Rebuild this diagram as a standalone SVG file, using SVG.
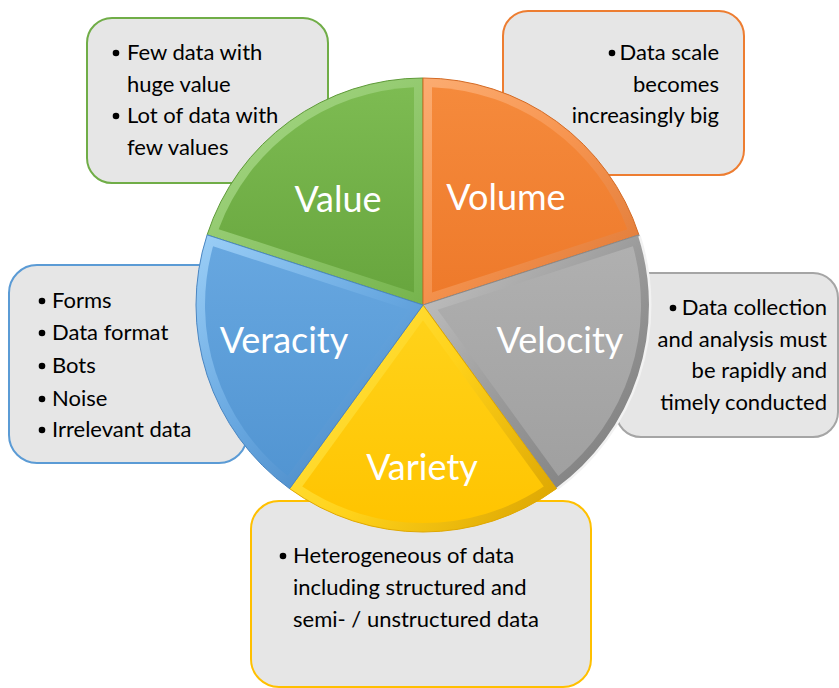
<svg xmlns="http://www.w3.org/2000/svg" width="839" height="688" viewBox="0 0 839 688">
<style>
.box{fill:#E6E6E6;stroke-width:2}
.t{font-family:Lato,"Open Sans",sans-serif;font-size:22px;fill:#000}
.e{text-anchor:end}
.lbl{font-family:Lato,"Open Sans",sans-serif;font-size:36px;fill:#fff;text-anchor:middle}
.b{fill:#000}
</style>
<defs>
<linearGradient id="gF" x1="0" y1="0" x2="0" y2="1"><stop offset="0" stop-color="#7DBB52"/><stop offset="1" stop-color="#68A63E"/></linearGradient>
<linearGradient id="gB" gradientUnits="userSpaceOnUse" x1="230" y1="90" x2="560" y2="520"><stop offset="0" stop-color="#A6D886"/><stop offset="0.5" stop-color="#79B650"/><stop offset="1" stop-color="#4F8A2E"/></linearGradient>
<linearGradient id="oF" x1="0" y1="0" x2="0" y2="1"><stop offset="0" stop-color="#F58A3C"/><stop offset="1" stop-color="#EE7A2B"/></linearGradient>
<linearGradient id="oB" gradientUnits="userSpaceOnUse" x1="230" y1="90" x2="620" y2="520"><stop offset="0" stop-color="#FFC08E"/><stop offset="0.45" stop-color="#F79550"/><stop offset="1" stop-color="#C75F20"/></linearGradient>
<linearGradient id="yF" x1="0" y1="0" x2="0" y2="1"><stop offset="0" stop-color="#FFD21A"/><stop offset="1" stop-color="#FFC400"/></linearGradient>
<linearGradient id="yB" gradientUnits="userSpaceOnUse" x1="260" y1="320" x2="560" y2="530"><stop offset="0" stop-color="#FFEA55"/><stop offset="0.5" stop-color="#FFD21A"/><stop offset="1" stop-color="#D9A200"/></linearGradient>
<linearGradient id="aF" x1="0" y1="0" x2="0" y2="1"><stop offset="0" stop-color="#B0B0B0"/><stop offset="1" stop-color="#A0A0A0"/></linearGradient>
<linearGradient id="aB" gradientUnits="userSpaceOnUse" x1="420" y1="240" x2="660" y2="470"><stop offset="0" stop-color="#C8C8C8"/><stop offset="0.5" stop-color="#9A9A9A"/><stop offset="1" stop-color="#7A7A7A"/></linearGradient>
<linearGradient id="bF" x1="0" y1="0" x2="0" y2="1"><stop offset="0" stop-color="#67A7E0"/><stop offset="1" stop-color="#5295D2"/></linearGradient>
<linearGradient id="bB" gradientUnits="userSpaceOnUse" x1="200" y1="230" x2="420" y2="500"><stop offset="0" stop-color="#9CCFF7"/><stop offset="0.5" stop-color="#67A7E0"/><stop offset="1" stop-color="#3E7DBC"/></linearGradient>
</defs>

<g id="box-veracity">
<rect class="box" x="9" y="265" width="238" height="198" rx="28" stroke="#5B9BD5"/>
<circle class="b" cx="42" cy="301" r="3.3"/><text class="t" x="52" y="308">Forms</text>
<circle class="b" cx="42" cy="333" r="3.3"/><text class="t" x="52" y="340">Data format</text>
<circle class="b" cx="42" cy="366" r="3.3"/><text class="t" x="52" y="373">Bots</text>
<circle class="b" cx="42" cy="399" r="3.3"/><text class="t" x="52" y="406">Noise</text>
<circle class="b" cx="42" cy="430" r="3.3"/><text class="t" x="52" y="437">Irrelevant data</text>
</g>
<g id="box-value">
<rect class="box" x="87" y="18" width="241" height="165" rx="25" stroke="#70AD47"/>
<circle class="b" cx="116" cy="53" r="3.3"/><text class="t" x="127" y="60">Few data with</text>
<text class="t" x="127" y="92">huge value</text>
<circle class="b" cx="116" cy="116" r="3.3"/><text class="t" x="127" y="123">Lot of data with</text>
<text class="t" x="127" y="155">few values</text>
</g>
<g id="box-volume">
<rect class="box" x="503" y="11" width="241" height="164" rx="25" stroke="#ED7D31"/>
<circle class="b" cx="612" cy="53" r="3.3"/><text class="t e" x="719" y="60">Data scale</text>
<text class="t e" x="719" y="92">becomes</text>
<text class="t e" x="719" y="123">increasingly big</text>
</g>
<g id="box-velocity">
<rect class="box" x="616" y="273" width="222" height="164" rx="25" stroke="#A5A5A5"/>
<circle class="b" cx="673" cy="308" r="3.3"/><text class="t e" x="827" y="315">Data collection</text>
<text class="t e" x="827" y="347">and analysis must</text>
<text class="t e" x="827" y="378">be rapidly and</text>
<text class="t e" x="827" y="410">timely conducted</text>
</g>
<g id="box-variety">
<rect class="box" x="251" y="501" width="340" height="186" rx="28" stroke="#FFC000"/>
<circle class="b" cx="283" cy="556" r="3.3"/><text class="t" x="293" y="563">Heterogeneous of data</text>
<text class="t" x="293" y="595">including structured and</text>
<text class="t" x="293" y="627">semi- / unstructured data</text>
</g>

<g id="connectors"></g>

<g id="slice-value">
<path d="M423 305 L207.11 234.85 A227 227 0 0 1 423 78 Z" fill="url(#gB)" stroke="#5E9A38" stroke-width="1"/>
<path d="M414 292.61 L218.63 229.13 A218 218 0 0 1 414 87.19 Z" fill="url(#gF)"/>
<text class="lbl" x="338" y="212">Value</text>
</g>
<g id="slice-volume">
<path d="M423 305 L423 78 A227 227 0 0 1 638.89 234.85 Z" fill="url(#oB)" stroke="#D46A24" stroke-width="1"/>
<path d="M432 292.61 L432 87.19 A218 218 0 0 1 627.37 229.13 Z" fill="url(#oF)"/>
<text class="lbl" x="506" y="210">Volume</text>
</g>
<g id="slice-velocity">
<path d="M423 305 L638.89 234.85 A227 227 0 0 1 556.43 488.65 Z" fill="url(#aB)" stroke="#8A8A8A" stroke-width="1"/>
<path d="M639.5 236 A228 228 0 0 1 557 489" fill="none" stroke="#F2F2F2" stroke-width="2.5"/>
<path d="M437.56 309.73 L632.93 246.25 A218 218 0 0 1 558.31 475.92 Z" fill="url(#aF)"/>
<text class="lbl" x="560" y="353">Velocity</text>
</g>
<g id="slice-variety">
<path d="M423 305 L556.43 488.65 A227 227 0 0 1 289.57 488.65 Z" fill="url(#yB)" stroke="#E0A800" stroke-width="1"/>
<path d="M423 320.31 L543.75 486.5 A218 218 0 0 1 302.25 486.5 Z" fill="url(#yF)"/>
<text class="lbl" x="422" y="480">Variety</text>
</g>
<g id="slice-veracity">
<path d="M423 305 L289.57 488.65 A227 227 0 0 1 207.11 234.85 Z" fill="url(#bB)" stroke="#4A86C2" stroke-width="1"/>
<path d="M408.44 309.73 L287.69 475.92 A218 218 0 0 1 213.07 246.25 Z" fill="url(#bF)"/>
<text class="lbl" x="284" y="353">Veracity</text>
</g>
</svg>
